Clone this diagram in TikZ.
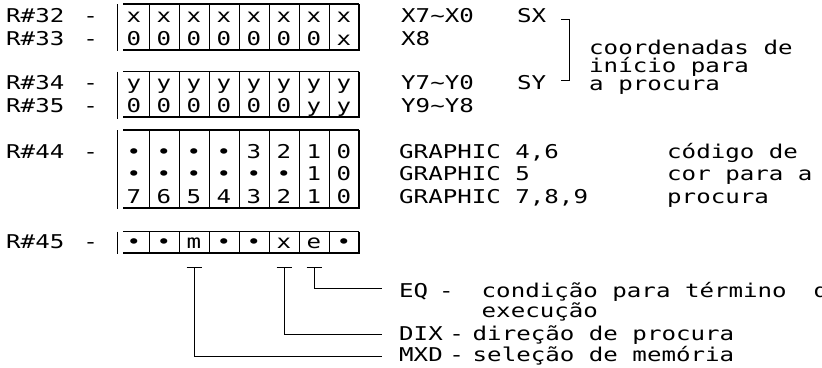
\documentclass[tikz,border=0pt]{standalone}
\usepackage{fontspec}
\newfontfamily\monofam[FakeStretch=1.27]{DejaVu Sans Mono}
\begin{document}
\begin{tikzpicture}[x=1pt,y=-1pt,
  txt/.style={anchor=base west,inner sep=0pt,font=\monofam\fontsize{19}{21}\selectfont},
  cell/.style={anchor=base,inner sep=0pt,font=\monofam\fontsize{19}{21}\selectfont},
  side/.style={line width=1.5pt},
  rule/.style={line width=1.1pt},
  under/.style={line width=2pt},
  sep/.style={line width=1pt},
  conn/.style={line width=1pt}]
\useasboundingbox (0,0) rectangle (822,367);

% register frames
\foreach \t/\b in {4/49.5, 71.5/117, 130/207.5, 231.5/252.5}{
  \draw[side] (117.5,\t) -- (117.5,\b+1.5);
  \draw[rule] (123,\t) -- (359,\t);
  \draw[under] (123,\b) -- (359,\b);
  \draw[rule] (359,\t) -- (359,\b+1);
  \foreach \k in {1,...,7} \draw[sep] ({119+30*\k},\t) -- ({119+30*\k},\b);
}

% cell contents
\foreach \v [count=\k] in {x,x,x,x,x,x,x,x} \node[cell] (a\k) at ({104+30*\k},22) {\v};
\foreach \v [count=\k] in {0,0,0,0,0,0,0,x} \node[cell] (b\k) at ({104+30*\k},45) {\v};
\foreach \v [count=\k] in {y,y,y,y,y,y,y,y} \node[cell] (c\k) at ({104+30*\k},89.5) {\v};
\foreach \v [count=\k] in {0,0,0,0,0,0,y,y} \node[cell] (d\k) at ({104+30*\k},112.5) {\v};
\foreach \v [count=\k] in {\textbullet,\textbullet,\textbullet,\textbullet,3,2,1,0} \node[cell] (e\k) at ({104+30*\k},158) {\v};
\foreach \v [count=\k] in {\textbullet,\textbullet,\textbullet,\textbullet,\textbullet,\textbullet,1,0} \node[cell] (f\k) at ({104+30*\k},180.5) {\v};
\foreach \v [count=\k] in {7,6,5,4,3,2,1,0} \node[cell] (g\k) at ({104+30*\k},203) {\v};
\foreach \v [count=\k] in {\textbullet,\textbullet,m,\textbullet,\textbullet,x,e,\textbullet} \node[cell] (h\k) at ({104+30*\k},248) {\v};

% register labels
\node[txt] (r32) at (6,22) {R\#32\hspace{19pt}-};
\node[txt] (r33) at (6,45) {R\#33\hspace{19pt}-};
\node[txt] (r34) at (6,89.5) {R\#34\hspace{19pt}-};
\node[txt] (r35) at (6,112.5) {R\#35\hspace{19pt}-};
\node[txt] (r44) at (6,158) {R\#44\hspace{19pt}-};
\node[txt] (r45) at (6,248) {R\#45\hspace{19pt}-};

% right-hand texts, upper part
\node[txt] (x70) at (401,22) {X7\textasciitilde X0};
\node[txt] (sx) at (517,22) {SX};
\node[txt] (x8) at (401,45) {X8};
\node[txt] (y70) at (401,89.5) {Y7\textasciitilde Y0};
\node[txt] (sy) at (517,89.5) {SY};
\node[txt] (y98) at (401,112.5) {Y9\textasciitilde Y8};
\draw[conn] (561,19) -- (569,19) -- (569,80) -- (561,80);
\node[txt] (co1) at (589,54) {coordenadas de};
\node[txt] (co2) at (589,72) {início para};
\node[txt] (co3) at (589,90) {a procura};

% graphic texts
\node[txt] (g46) at (399,158) {GRAPHIC 4,6};
\node[txt] (g5) at (399,180.5) {GRAPHIC 5};
\node[txt] (g789) at (399,203) {GRAPHIC 7,8,9};
\node[txt] (cc1) at (667,158) {código de};
\node[txt] (cc2) at (667,180.5) {cor para a};
\node[txt] (cc3) at (667,203) {procura};

% bit descriptions
\node[txt] (eq) at (399,297) {EQ\hspace{10.8pt}-};
\node[txt] (eqd) at (481.5,297) {condição para término\hspace{27pt}de};
\node[txt] (eqd2) at (481.5,317) {execução};
\node[txt] (dix) at (399,340) {DIX\hspace{6.5pt}-};
\node[txt] (dixd) at (472.5,340) {direção de procura};
\node[txt] (mxd) at (399,361) {MXD\hspace{6.5pt}-};
\node[txt] (mxdd) at (472.5,361) {seleção de memória};

% connectors
\coordinate (tm) at (194,267);
\coordinate (tx) at (284,267);
\coordinate (te) at (314,267);
\coordinate (eqend) at (382,288);
\coordinate (dixend) at (382,334);
\coordinate (mxdend) at (382,356);
\foreach \p in {tm,tx,te} \draw[conn] ([xshift=-7.5pt]\p) -- ([xshift=7.5pt]\p);
\draw[conn] (te) |- (eqend);
\draw[conn] (tx) |- (dixend);
\draw[conn] (tm) |- (mxdend);
\end{tikzpicture}
\end{document}
